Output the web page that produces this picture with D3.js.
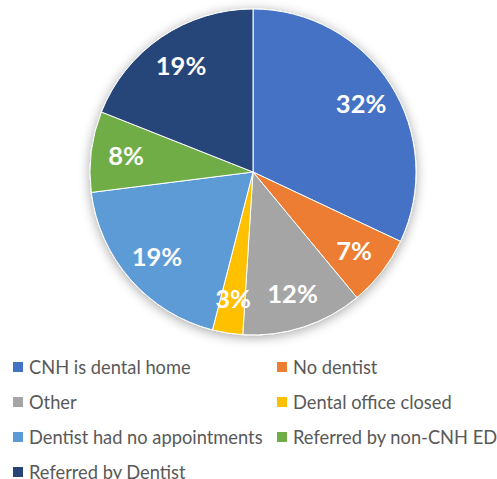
<!DOCTYPE html>
<html>
<head>
<meta charset="utf-8">
<script src="https://cdn.jsdelivr.net/npm/d3@7"></script>
<style>
  body { margin: 0; background: #fff; }
  svg { display: block; }
  .label { font-family: Lato, "Open Sans", sans-serif; font-weight: bold; fill: #fff; }
  .legend text { font-family: Lato, "Open Sans", sans-serif; fill: #595959; }
</style>
</head>
<body>
<svg id="chart" width="497" height="479"></svg>
<script>
const categories = ['CNH is dental home', 'No dentist', 'Other', 'Dental office closed',
  'Dentist had no appointments', 'Referred by non-CNH ED', 'Referred by Dentist'];
const values = [32, 7, 12, 3, 19, 8, 19];
const colors = ['#4472C4', '#ED7D31', '#A5A5A5', '#FFC000', '#5B9BD5', '#70AD47', '#264478'];

const width = 497, height = 479;
const cx = 253, cy = 172, radius = 163;

const svg = d3.select('#chart');

// soft shadow round the pie
const defs = svg.append('defs');
const filter = defs.append('filter').attr('id', 'shadow')
  .attr('x', '-20%').attr('y', '-20%').attr('width', '140%').attr('height', '140%');
filter.append('feGaussianBlur').attr('in', 'SourceAlpha').attr('stdDeviation', 6).attr('result', 'blur');
filter.append('feOffset').attr('in', 'blur').attr('dx', 0).attr('dy', 2).attr('result', 'off');
filter.append('feComponentTransfer').attr('in', 'off').attr('result', 'soft')
  .append('feFuncA').attr('type', 'linear').attr('slope', 0.35);
const merge = filter.append('feMerge');
merge.append('feMergeNode').attr('in', 'soft');
merge.append('feMergeNode').attr('in', 'SourceGraphic');

const data = categories.map((c, i) => ({ name: c, value: values[i], color: colors[i] }));

const pie = d3.pie().value((d) => d.value).sort(null);
const arc = d3.arc().innerRadius(0).outerRadius(radius);
const labelArc = d3.arc().innerRadius(128).outerRadius(128);

const g = svg.append('g').attr('transform', `translate(${cx}, ${cy})`);
const arcs = pie(data);

g.append('g').attr('filter', 'url(#shadow)')
  .selectAll('path')
  .data(arcs)
  .enter()
  .append('path')
  .attr('d', arc)
  .style('fill', (d) => d.data.color)
  .style('stroke', '#fff')
  .style('stroke-width', 1);

g.selectAll('.label')
  .data(arcs)
  .enter()
  .append('text')
  .attr('class', 'label')
  .attr('text-anchor', 'middle')
  .attr('dy', '0.36em')
  .attr('font-size', 25.5)
  .attr('transform', (d) => `translate(${labelArc.centroid(d)})`)
  .text((d) => d.data.value + '%');

// legend, two columns
const legend = svg.append('g').attr('class', 'legend');
const colX = [13, 277], rowY0 = 367, rowStep = 35;

const item = legend.selectAll('g')
  .data(data)
  .enter()
  .append('g')
  .attr('transform', (d, i) => `translate(${colX[i % 2]}, ${rowY0 + Math.floor(i / 2) * rowStep})`);

item.append('rect')
  .attr('x', 0).attr('y', -5)
  .attr('width', 10).attr('height', 10)
  .style('fill', (d) => d.color);

item.append('text')
  .attr('x', 16)
  .attr('dy', '0.36em')
  .attr('font-size', 18.3)
  .text((d) => d.name);
</script>
</body>
</html>
